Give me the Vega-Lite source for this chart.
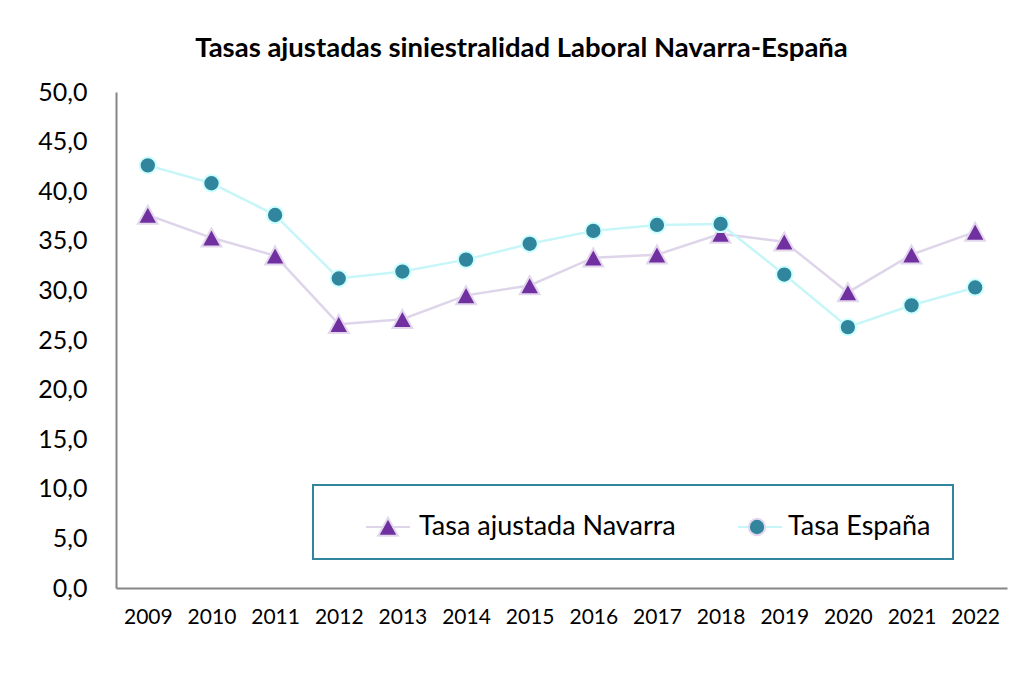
{
  "$schema": "https://vega.github.io/schema/vega-lite/v6.json",
  "width": 891,
  "height": 496,
  "autosize": {"type": "none"},
  "padding": {"left": 116, "top": 92, "right": 5, "bottom": 87},
  "background": "white",
  "title": {
    "text": "Tasas ajustadas siniestralidad Laboral Navarra-España",
    "font": "Lato",
    "fontSize": 27.5,
    "fontWeight": "bold",
    "color": "#000000",
    "anchor": "middle",
    "dx": -40,
    "offset": 18
  },
  "data": {
    "values": [
      {"year": "2009", "Tasa ajustada Navarra": 37.6, "Tasa España": 42.6},
      {"year": "2010", "Tasa ajustada Navarra": 35.3, "Tasa España": 40.8},
      {"year": "2011", "Tasa ajustada Navarra": 33.5, "Tasa España": 37.6},
      {"year": "2012", "Tasa ajustada Navarra": 26.6, "Tasa España": 31.2},
      {"year": "2013", "Tasa ajustada Navarra": 27.1, "Tasa España": 31.9},
      {"year": "2014", "Tasa ajustada Navarra": 29.5, "Tasa España": 33.1},
      {"year": "2015", "Tasa ajustada Navarra": 30.5, "Tasa España": 34.7},
      {"year": "2016", "Tasa ajustada Navarra": 33.3, "Tasa España": 36.0},
      {"year": "2017", "Tasa ajustada Navarra": 33.6, "Tasa España": 36.6},
      {"year": "2018", "Tasa ajustada Navarra": 35.7, "Tasa España": 36.7},
      {"year": "2019", "Tasa ajustada Navarra": 34.9, "Tasa España": 31.6},
      {"year": "2020", "Tasa ajustada Navarra": 29.8, "Tasa España": 26.3},
      {"year": "2021", "Tasa ajustada Navarra": 33.6, "Tasa España": 28.5},
      {"year": "2022", "Tasa ajustada Navarra": 35.9, "Tasa España": 30.3}
    ]
  },
  "encoding": {
    "x": {
      "field": "year",
      "type": "ordinal",
      "scale": {"type": "point", "padding": 0.5},
      "axis": {
        "title": null,
        "labelAngle": 0,
        "labelFont": "Lato",
        "labelFontSize": 21,
        "labelColor": "#000000",
        "labelPadding": 18,
        "ticks": false,
        "domainColor": "#868686",
        "domainWidth": 2,
        "grid": false
      }
    }
  },
  "layer": [
    {
      "transform": [{"fold": ["Tasa ajustada Navarra", "Tasa España"], "as": ["serie", "valor"]}],
      "mark": {"type": "line", "strokeWidth": 2.5},
      "encoding": {
        "y": {
          "field": "valor",
          "type": "quantitative",
          "scale": {"domain": [0, 50], "nice": false},
          "axis": {
            "title": null,
            "values": [0, 5, 10, 15, 20, 25, 30, 35, 40, 45, 50],
            "labelExpr": "replace(format(datum.value, '.1f'), '.', ',')",
            "labelFont": "Lato",
            "labelFontSize": 25,
            "labelColor": "#000000",
            "labelPadding": 29,
            "ticks": false,
            "domainColor": "#868686",
            "domainWidth": 2,
            "grid": false
          }
        },
        "stroke": {
          "field": "serie",
          "type": "nominal",
          "sort": ["Tasa ajustada Navarra", "Tasa España"],
          "scale": {"range": ["#DFD5EA", "#C6F6F8"]},
          "legend": {
            "title": " ",
            "symbolType": "stroke",
            "labelColor": "transparent",
            "strokeColor": "#31859C"
          }
        }
      }
    },
    {
      "transform": [
        {"fold": ["Tasa ajustada Navarra", "Tasa España"], "as": ["series", "value"]},
        {"filter": "datum.series === 'Tasa ajustada Navarra'"}
      ],
      "mark": {"type": "point", "filled": true, "opacity": 1, "size": 1936, "strokeWidth": 2, "stroke": "#E3D7EE"},
      "encoding": {
        "y": {"field": "value", "type": "quantitative"},
        "color": {
          "field": "series",
          "type": "nominal",
          "scale": {"domain": ["Tasa ajustada Navarra", "Tasa España"], "range": ["#7030A0", "#31859C"]},
          "legend": {"title": " "}
        },
        "shape": {
          "field": "series",
          "type": "nominal",
          "scale": {"domain": ["Tasa ajustada Navarra", "Tasa España"], "range": ["M 0 -0.42 L 0.45 0.4 L -0.45 0.4 Z", "M 0.37 0 A 0.37 0.37 0 1 1 -0.37 0 A 0.37 0.37 0 1 1 0.37 0 Z"]},
          "legend": {"title": " "}
        }
      }
    },
    {
      "transform": [
        {"fold": ["Tasa ajustada Navarra", "Tasa España"], "as": ["series", "value"]},
        {"filter": "datum.series === 'Tasa España'"}
      ],
      "mark": {"type": "point", "filled": true, "opacity": 1, "size": 1936, "strokeWidth": 2, "stroke": "#CCFFFF"},
      "encoding": {
        "y": {"field": "value", "type": "quantitative"},
        "color": {"field": "series", "type": "nominal", "legend": {"title": " "}},
        "shape": {"field": "series", "type": "nominal", "legend": {"title": " "}}
      }
    }
  ],
  "config": {
    "view": {"stroke": null},
    "legend": {
      "orient": "none",
      "legendX": 197,
      "legendY": 393,
      "direction": "horizontal",
      "symbolSize": 1936,
      "symbolStrokeWidth": 2,
      "labelFont": "Lato",
      "labelFontSize": 27,
      "labelColor": "#000000",
      "labelLimit": 0,
      "labelOffset": 8,
      "columnPadding": 58,
      "padding": 19,
      "titleOrient": "left",
      "titlePadding": 33,
      "titleFontSize": 10,
      "strokeWidth": 2,
      "cornerRadius": 0
    }
  }
}
